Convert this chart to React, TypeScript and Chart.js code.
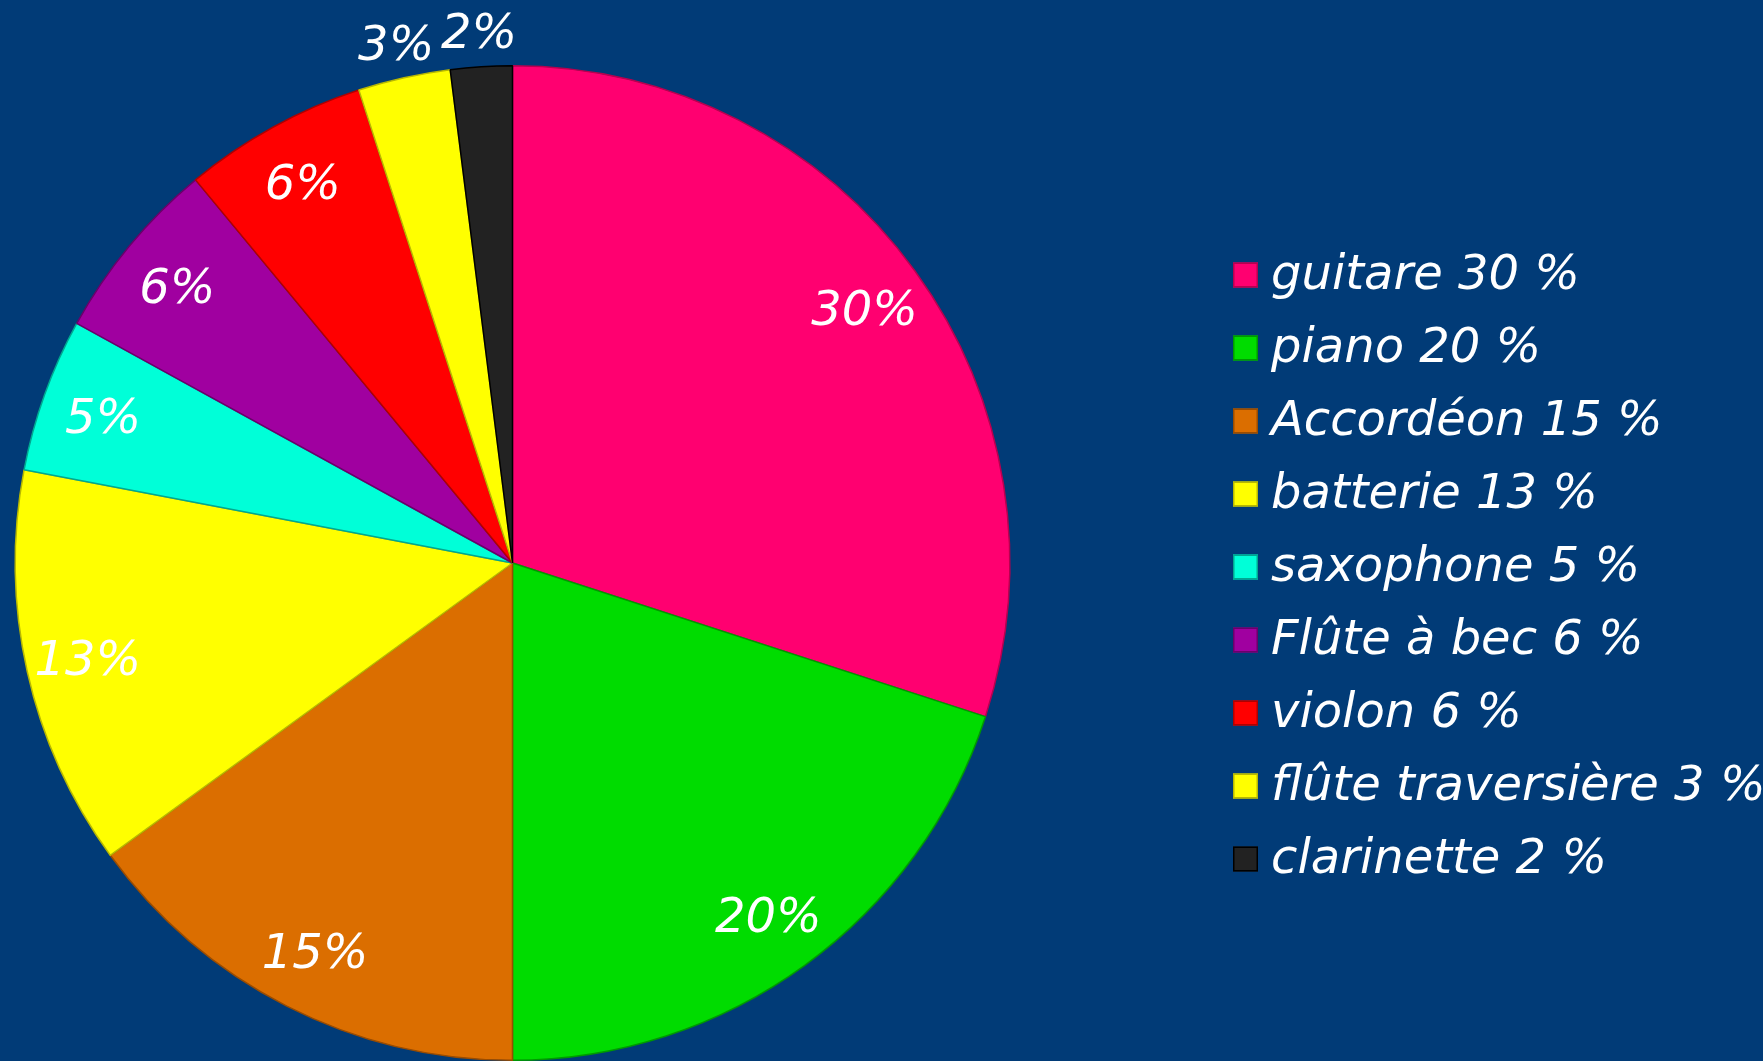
import React, { useEffect, useRef } from "react";
import { Chart, registerables } from "chart.js";

Chart.register(...registerables);

const categories = [
  "guitare",
  "piano",
  "Accordéon",
  "batterie",
  "saxophone",
  "Flûte à bec",
  "violon",
  "flûte traversière",
  "clarinette",
];
const percentages = [30, 20, 15, 13, 5, 6, 6, 3, 2];
const sliceColors = [
  "#FF0070",
  "#00DC00",
  "#DB6E00",
  "#FFFF00",
  "#00FFD8",
  "#A000A0",
  "#FF0000",
  "#FFFF00",
  "#222222",
];
const edgeColors = [
  "#B8004F",
  "#009A00",
  "#9A4C00",
  "#B8B800",
  "#00A890",
  "#6A006A",
  "#B00000",
  "#B8B800",
  "#000000",
];

const FONT = '"DejaVu Sans", Verdana, sans-serif';

const labelPlugin = {
  id: "sliceLabels",
  afterDatasetsDraw(chart: any) {
    const ctx = chart.ctx;
    const meta = chart.getDatasetMeta(0);
    ctx.save();
    ctx.fillStyle = "#FFFFFF";
    ctx.font = `italic 48px ${FONT}`;
    ctx.textAlign = "center";
    ctx.textBaseline = "middle";
    meta.data.forEach((arc: any, i: number) => {
      const v = percentages[i];
      const mid = (arc.startAngle + arc.endAngle) / 2;
      const r = v >= 5 ? arc.outerRadius * 0.875 : arc.outerRadius + 36;
      const x = arc.x + Math.cos(mid) * r;
      const y = arc.y + Math.sin(mid) * r + 5;
      ctx.fillText(`${v}%`, x, y);
    });
    ctx.restore();
  },
};

const legendPlugin = {
  id: "sideLegend",
  afterDraw(chart: any) {
    const ctx = chart.ctx;
    const centerY = 567;
    const rowGap = 73;
    const n = categories.length;
    const top = centerY - ((n - 1) / 2) * rowGap;
    ctx.save();
    ctx.font = `italic 48px ${FONT}`;
    ctx.textBaseline = "middle";
    ctx.textAlign = "left";
    categories.forEach((c, i) => {
      const y = top + i * rowGap;
      const bx = 1233;
      const s = 25;
      ctx.fillStyle = sliceColors[i];
      ctx.fillRect(bx, y - s / 2, s, s);
      ctx.strokeStyle = edgeColors[i];
      ctx.lineWidth = 1.5;
      ctx.strokeRect(bx + 0.75, y - s / 2 + 0.75, s - 1.5, s - 1.5);
      ctx.fillStyle = "#FFFFFF";
      ctx.fillText(`${c} ${percentages[i]} %`, 1271, y + 2);
    });
    ctx.restore();
  },
};

export default function App() {
  const ref = useRef<HTMLCanvasElement | null>(null);
  useEffect(() => {
    document.body.style.margin = "0";
    document.body.style.background = "#013B77";
    document.body.style.overflow = "hidden";
    const chart = new Chart(ref.current as HTMLCanvasElement, {
      type: "pie",
      data: {
        labels: categories,
        datasets: [
          {
            data: percentages,
            backgroundColor: sliceColors,
            borderColor: edgeColors,
            borderWidth: 1.5,
            hoverOffset: 0,
          },
        ],
      },
      options: {
        animation: false,
        responsive: false,
        maintainAspectRatio: false,
        layout: { padding: { left: 14, top: 65, right: 752, bottom: 0 } },
        plugins: {
          legend: { display: false },
          tooltip: { enabled: false },
        },
      },
      plugins: [labelPlugin, legendPlugin],
    });
    return () => chart.destroy();
  }, []);
  return (
    <div style={{ width: 1763, height: 1061, background: "#013B77" }}>
      <canvas ref={ref} width={1763} height={1061} style={{ display: "block" }} />
    </div>
  );
}
